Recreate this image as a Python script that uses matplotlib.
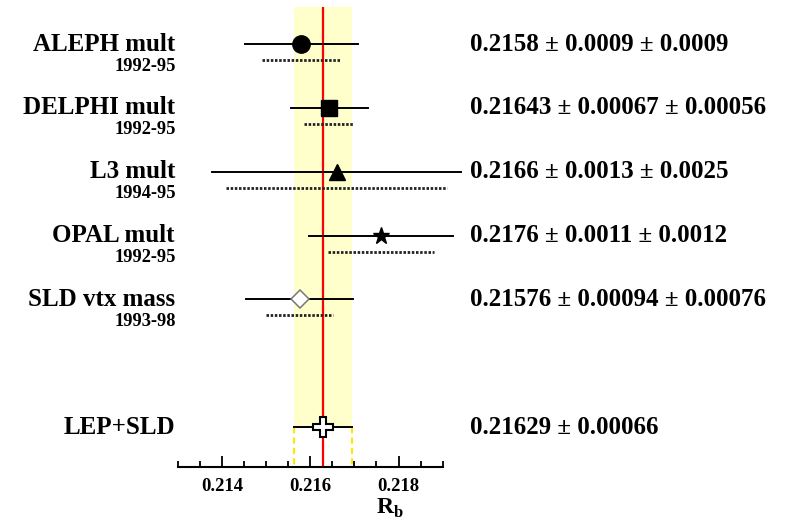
import matplotlib
matplotlib.use("Agg")
import matplotlib.pyplot as plt
import matplotlib.transforms as mtransforms
from matplotlib.ticker import MultipleLocator, FixedLocator

plt.rcParams['font.family'] = ['Liberation Serif', 'DejaVu Serif']
plt.rcParams['font.weight'] = 'bold'
plt.rcParams['mathtext.fontset'] = 'custom'
plt.rcParams['mathtext.rm'] = 'Liberation Serif:bold'
plt.rcParams['mathtext.bf'] = 'Liberation Serif:bold'

names = ["ALEPH mult", "DELPHI mult", "L3 mult", "OPAL mult", "SLD vtx mass"]
years = ["1992-95", "1992-95", "1994-95", "1992-95", "1993-98"]
values = [0.2158, 0.21643, 0.2166, 0.2176, 0.21576]
stat = [0.0009, 0.00067, 0.0013, 0.0011, 0.00094]
syst = [0.0009, 0.00056, 0.0025, 0.0012, 0.00076]
labels = ["0.2158 ± 0.0009 ± 0.0009", "0.21643 ± 0.00067 ± 0.00056",
          "0.2166 ± 0.0013 ± 0.0025", "0.2176 ± 0.0011 ± 0.0012",
          "0.21576 ± 0.00094 ± 0.00076"]
markers = ["o", "s", "^", "*", "D"]
rows = [0, 1, 2, 3, 4]

avg_name = "LEP+SLD"
avg_value = 0.21629
avg_err = 0.00066
avg_label = "0.21629 ± 0.00066"
avg_row = 6

fig = plt.figure(figsize=(7.86, 5.21), dpi=100)
W, H = 786, 521
x0, x1 = 177.7, 442.7
ytop, ybot = 7, 467
ax = fig.add_axes([x0 / W, (H - ybot) / H, (x1 - x0) / W, (ybot - ytop) / H])

ppr = (427 - 44) / 6.0
ax.set_ylim(avg_row + (ybot - 427) / ppr, -(44 - ytop) / ppr)
ax.set_xlim(0.213, 0.219)

off = 16 / ppr
ax.fill_betweenx([ax.get_ylim()[1], avg_row], avg_value - avg_err, avg_value + avg_err,
                 facecolor='#FFFFCC', edgecolor='none', zorder=0)
ax.axvline(avg_value, color='red', lw=1.6, zorder=1)
for xv in (avg_value - avg_err, avg_value + avg_err):
    ax.plot([xv, xv], [avg_row, ax.get_ylim()[0]], color='#FFE800', lw=1.5,
            ls=(0, (3, 2)), zorder=1)

for i, r in enumerate(rows):
    tot = (stat[i] ** 2 + syst[i] ** 2) ** 0.5
    ax.plot([values[i] - tot, values[i] + tot], [r, r], color='black', lw=1.4,
            zorder=2, clip_on=False)
    ax.plot([values[i] - syst[i], values[i] + syst[i]], [r + off, r + off],
            color='#222222', lw=2.0, ls=(0, (0.9, 0.6)), zorder=2, clip_on=False)
    if markers[i] == 'D':
        ax.plot(values[i], r, marker='D', ms=9, mfc='white', mec='#777777', mew=1.1,
                zorder=3)
    else:
        ms = {'o': 12.5, 's': 12, '^': 12, '*': 12.5}[markers[i]]
        ax.plot(values[i], r, marker=markers[i], ms=ms, color='black', zorder=3)

ax.plot([avg_value - avg_err, avg_value + avg_err], [avg_row, avg_row], color='black',
        lw=1.4, zorder=2)
ax.plot(avg_value, avg_row, marker='P', ms=15, mfc='white', mec='black', mew=1.5, zorder=3)

trans = mtransforms.blended_transform_factory(ax.transAxes, ax.transData)
lx = (175 - x0) / (x1 - x0)
rx = (470 - x0) / (x1 - x0)
yoff = 22 / ppr
fs = 18
for i, r in enumerate(rows):
    ax.text(lx, r, names[i], transform=trans, ha='right', va='center', fontsize=fs,
            fontweight='bold')
    ax.text(lx + 0.005, r + yoff, years[i], transform=trans, ha='right', va='center',
            fontsize=13.3, fontweight='bold')
    ax.text(rx, r, labels[i], transform=trans, ha='left', va='center', fontsize=fs,
            fontweight='bold')
ax.text(lx, avg_row, avg_name, transform=trans, ha='right', va='center', fontsize=fs,
        fontweight='bold')
ax.text(rx, avg_row, avg_label, transform=trans, ha='left', va='center', fontsize=fs,
        fontweight='bold')

for s in ('top', 'left', 'right'):
    ax.spines[s].set_visible(False)
ax.spines['bottom'].set_linewidth(1.5)
ax.set_yticks([])
ax.xaxis.set_major_locator(FixedLocator([0.214, 0.216, 0.218]))
ax.xaxis.set_minor_locator(MultipleLocator(0.0005))
ax.tick_params(axis='x', which='major', direction='in', length=8, width=1.3,
               labelsize=13.5, pad=8)
ax.tick_params(axis='x', which='minor', direction='in', length=4, width=1.3)
ax.set_xticklabels(["0.214", "0.216", "0.218"], fontweight='bold')
ax.text((390 - x0) / (x1 - x0), -(508 - ybot) / (ybot - ytop), r'R$_{\mathrm{b}}$',
        transform=ax.transAxes, ha='center', va='center', fontsize=17)
ax.patch.set_alpha(0)

fig.savefig("out.png", dpi=100)
